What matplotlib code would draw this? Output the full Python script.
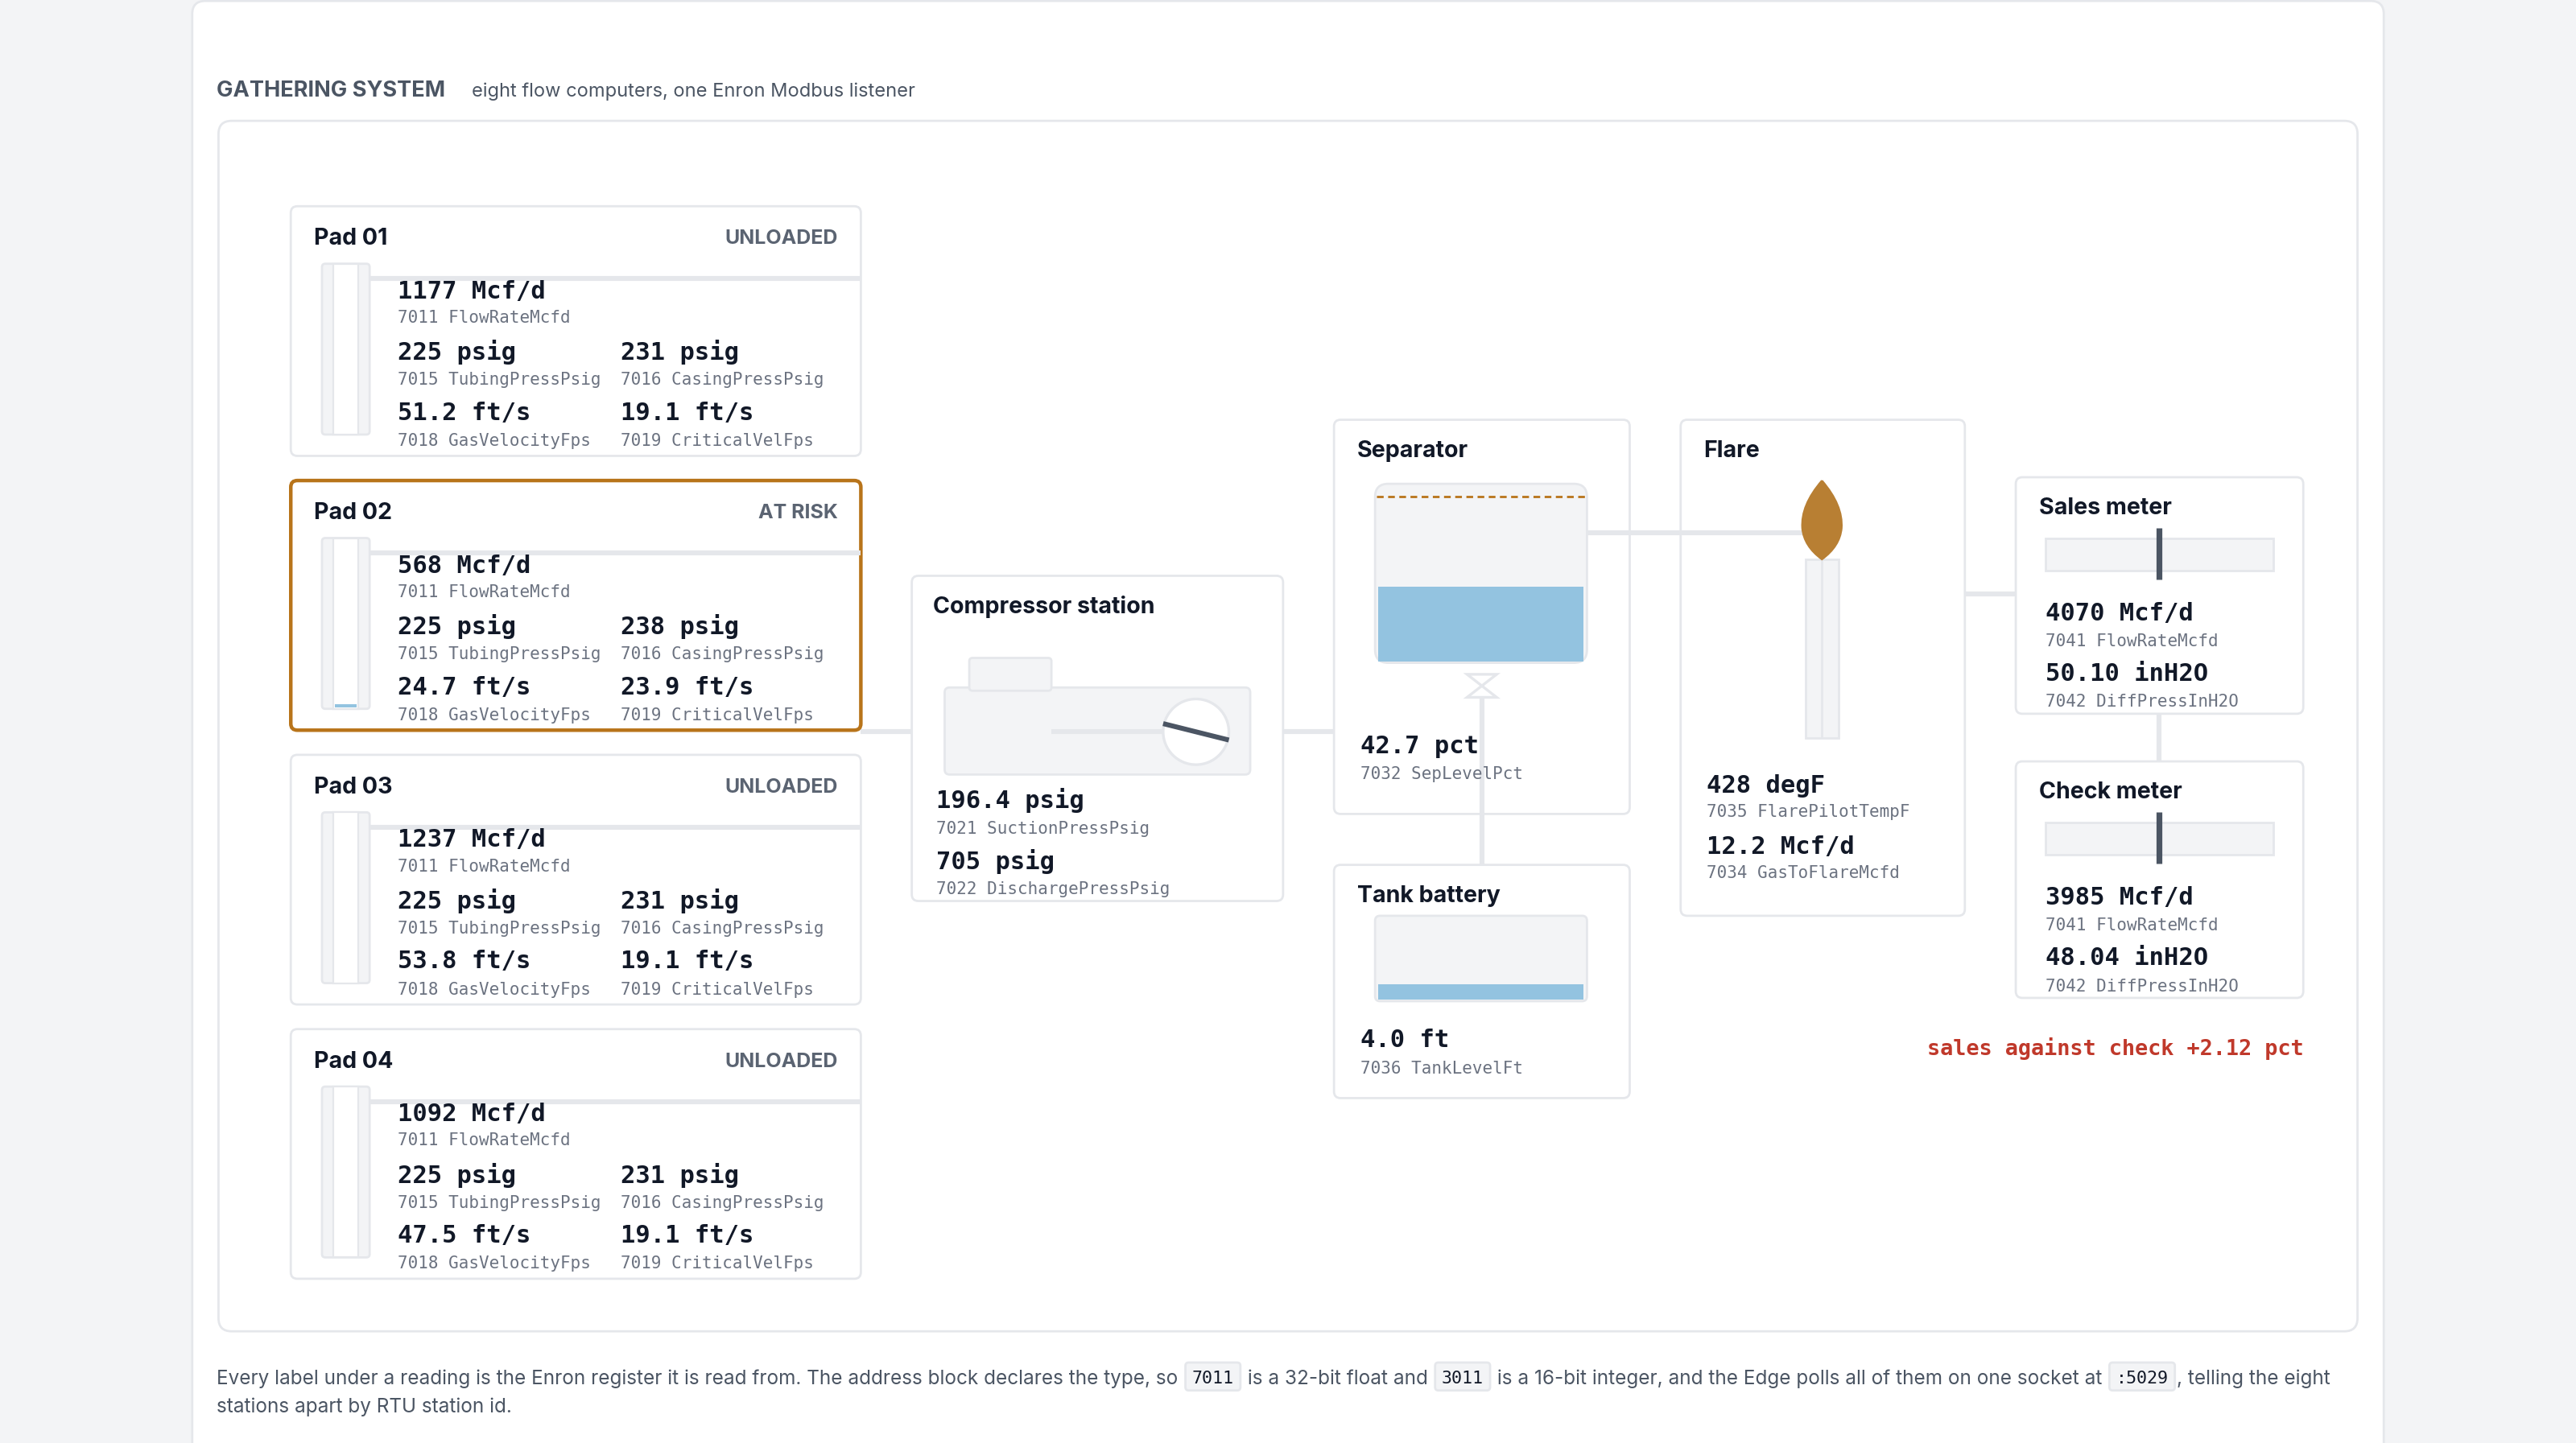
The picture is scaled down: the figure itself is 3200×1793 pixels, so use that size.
import matplotlib
matplotlib.use("Agg")
import matplotlib.pyplot as plt
from matplotlib.patches import FancyBboxPatch, Rectangle, Circle, Polygon
from matplotlib.path import Path
from matplotlib.patches import PathPatch

# ---- data ----
pad_names = ["Pad 01", "Pad 02", "Pad 03", "Pad 04"]
pad_status = ["UNLOADED", "AT RISK", "UNLOADED", "UNLOADED"]
pad_flow = [1177, 568, 1237, 1092]
pad_tubing = [225, 225, 225, 225]
pad_casing = [231, 238, 231, 231]
pad_gasvel = [51.2, 24.7, 53.8, 47.5]
pad_critvel = [19.1, 23.9, 19.1, 19.1]
pad_regs = ["7011 FlowRateMcfd", "7015 TubingPressPsig", "7016 CasingPressPsig",
            "7018 GasVelocityFps", "7019 CriticalVelFps"]
comp_suction = 196.4
comp_discharge = 705
sep_level_pct = 42.7
flare_temp = 428
flare_gas = 12.2
tank_level_ft = 4.0
tank_fill_frac = 0.2
sales_flow, sales_dp = 4070, 50.10
check_flow, check_dp = 3985, 48.04
sales_vs_check = 2.12

W, H = 1568, 879
fig = plt.figure(figsize=(16, 16 * H / W), dpi=200)
ax = fig.add_axes([0, 0, 1, 1])
ax.set_xlim(0, W); ax.set_ylim(H, 0); ax.axis("off")
fig.patch.set_facecolor("#f3f4f6")

SANS = ["Inter", "DejaVu Sans"]
MONO = ["DejaVu Sans Mono"]
BORDER = "#e5e7eb"
LIGHT = "#f3f4f6"
DARK = "#111827"
GRAY = "#6b7280"
SLATE = "#4b5563"
BLUE = "#93c3e0"
DY = 1.5

def box(x0, y0, x1, y1, ec=BORDER, fc="white", lw=1.0, r=4, z=1):
    p = FancyBboxPatch((x0, y0), x1 - x0, y1 - y0, boxstyle=f"round,pad=0,rounding_size={r}",
                       ec=ec, fc=fc, lw=lw, zorder=z)
    ax.add_patch(p)

def line(xs, ys, c=BORDER, lw=2.2, z=0.5, **kw):
    ax.plot(xs, ys, color=c, lw=lw, zorder=z, solid_capstyle="butt", **kw)

def title(x, y, s):
    ax.text(x, y + DY, s, fontsize=10.3, fontweight="bold", family=SANS, color=DARK, va="center", zorder=5)

def val(x, y, s, c=DARK, ha="left"):
    ax.text(x, y + DY, s, fontsize=11, fontweight="bold", family=MONO, color=c, va="center", ha=ha, zorder=5)

def lab(x, y, s):
    ax.text(x, y + DY, s, fontsize=7.5, family=MONO, color=GRAY, va="center", zorder=5)

# outer card and panel
box(117, 1, 1451, 900, fc="white", r=8, z=0)
ax.text(132, 54 + DY, "GATHERING SYSTEM", fontsize=9.8, fontweight="bold", family=SANS, color=SLATE, va="center")
ax.text(287, 54 + DY, "eight flow computers, one Enron Modbus listener", fontsize=8.5, family=SANS, color=SLATE, va="center")
box(133, 74, 1435, 811, r=8, z=0.2)

# connection lines
line([524, 555], [446, 446])
line([781, 812], [446, 446])
line([966, 1100], [325, 325], z=2)
line([1196, 1227], [362, 362])
line([902, 902], [425, 527], z=3)
line([1314, 1314], [435, 464])

# pads
for i in range(4):
    y0 = 126 + 167 * i
    risk = pad_status[i] == "AT RISK"
    box(177, y0, 524, y0 + 152, ec="#b8741a" if risk else BORDER, lw=1.6 if risk else 1.0, z=1)
    title(191, y0 + 18, pad_names[i])
    ax.text(510, y0 + 18 + DY, pad_status[i], fontsize=9.0, fontweight="bold", family=SANS,
            color="#5b6472", ha="right", va="center", zorder=5)
    box(196, y0 + 35, 225, y0 + 139, fc=LIGHT, r=2, z=2)
    ax.add_patch(Rectangle((203, y0 + 35), 15, 104, fc="white", ec=BORDER, lw=0.8, zorder=2.1))
    if risk:
        ax.add_patch(Rectangle((204, y0 + 136), 13, 2, fc=BLUE, lw=0, zorder=2.2))
    line([225, 524], [y0 + 44, y0 + 44], z=2.05)
    val(242, y0 + 50, f"{pad_flow[i]} Mcf/d"); lab(242, y0 + 66, pad_regs[0])
    val(242, y0 + 87, f"{pad_tubing[i]} psig"); lab(242, y0 + 104, pad_regs[1])
    val(378, y0 + 87, f"{pad_casing[i]} psig"); lab(378, y0 + 104, pad_regs[2])
    val(242, y0 + 124, f"{pad_gasvel[i]:.1f} ft/s"); lab(242, y0 + 141, pad_regs[3])
    val(378, y0 + 124, f"{pad_critvel[i]:.1f} ft/s"); lab(378, y0 + 141, pad_regs[4])

# compressor
box(555, 351, 781, 549)
title(568, 368, "Compressor station")
box(575, 419, 761, 472, fc=LIGHT, r=3, z=2)
box(590, 401, 640, 421, fc=LIGHT, r=2, z=2)
line([640, 710], [446, 446], z=2.5)
ax.add_patch(Circle((728, 446), 20, fc="white", ec=BORDER, lw=1.2, zorder=3))
line([708, 748], [441, 451], c=SLATE, lw=2.2, z=3.5)
val(570, 486, f"{comp_suction:.1f} psig"); lab(570, 503, "7021 SuctionPressPsig")
val(570, 523, f"{comp_discharge} psig"); lab(570, 540, "7022 DischargePressPsig")

# separator
box(812, 256, 992, 496)
title(826, 273, "Separator")
vy0, vy1 = 295, 404
box(837, vy0, 966, vy1, fc=LIGHT, r=8, z=2)
liq_top = vy1 - (vy1 - vy0) * sep_level_pct / 100
ax.add_patch(Rectangle((839, liq_top), 125, vy1 - liq_top - 1, fc=BLUE, lw=0, zorder=2.5))
line([838, 965], [303, 303], c="#b8741a", lw=1.0, z=3, linestyle=(0, (3, 2)))
ax.add_patch(Polygon([(893, 411), (911, 411), (893, 425), (911, 425)], closed=True,
                     fc="white", ec=BORDER, lw=1.2, zorder=3))
val(828, 453, f"{sep_level_pct:.1f} pct"); lab(828, 470, "7032 SepLevelPct")

# tank battery
box(812, 527, 992, 669)
title(826, 544, "Tank battery")
box(837, 558, 966, 610, fc=LIGHT, r=3, z=2)
ax.add_patch(Rectangle((839, 610 - 52 * tank_fill_frac), 125, 52 * tank_fill_frac - 1, fc=BLUE, lw=0, zorder=2.5))
val(828, 632, f"{tank_level_ft:.1f} ft"); lab(828, 649, "7036 TankLevelFt")

# flare
box(1023, 256, 1196, 558)
title(1037, 273, "Flare")
ax.add_patch(Rectangle((1099, 341), 20, 109, fc=LIGHT, ec=BORDER, lw=1.0, zorder=2))
line([1109, 1109], [341, 450], z=2.5, lw=1.0)
fl = Path([(1109, 293), (1122, 308), (1121, 322), (1120, 333), (1109, 341), (1098, 333), (1097, 322), (1096, 308), (1109, 293)],
          [Path.MOVETO, Path.CURVE3, Path.CURVE3, Path.CURVE3, Path.CURVE3, Path.CURVE3, Path.CURVE3, Path.CURVE3, Path.CURVE3])
ax.add_patch(PathPatch(fl, fc="#b87f33", ec="#b87f33", lw=0.8, zorder=3))
val(1039, 477, f"{flare_temp} degF"); lab(1039, 493, "7035 FlarePilotTempF")
val(1039, 514, f"{flare_gas:.1f} Mcf/d"); lab(1039, 530, "7034 GasToFlareMcfd")

# meters
for y0, name, fl_, dp in [(291, "Sales meter", sales_flow, sales_dp), (464, "Check meter", check_flow, check_dp)]:
    box(1227, y0, 1402, y0 + 144)
    title(1241, y0 + 17, name)
    ax.add_patch(Rectangle((1245, y0 + 37), 139, 20, fc=LIGHT, ec=BORDER, lw=1.0, zorder=2))
    line([1314, 1314], [y0 + 31, y0 + 62], c=SLATE, lw=2.6, z=3)
    val(1245, y0 + 81, f"{fl_} Mcf/d"); lab(1245, y0 + 98, "7041 FlowRateMcfd")
    val(1245, y0 + 118, f"{dp:.2f} inH2O"); lab(1245, y0 + 135, "7042 DiffPressInH2O")

ax.text(1402, 637 + DY, f"sales against check {sales_vs_check:+.2f} pct", fontsize=9.7, fontweight="bold",
        family=MONO, color="#c0392b", ha="right", va="center")

# footer with inline code
parts = [("Every label under a reading is the Enron register it is read from. The address block declares the type, so ", False),
         ("7011", True), (" is a 32-bit float and ", False), ("3011", True),
         (" is a 16-bit integer, and the Edge polls all of them on one socket at ", False), (":5029", True),
         (", telling the eight", False)]
fig.canvas.draw()
r = fig.canvas.get_renderer()
inv = ax.transData.inverted()
x = 132
FY = 838 + DY
for s, code in parts:
    if code:
        x += 5
        t = ax.text(x, FY, s, fontsize=7.8, family=MONO, color=DARK, va="center", zorder=5)
    else:
        t = ax.text(x, FY, s, fontsize=8.75, family=SANS, color=SLATE, va="center", zorder=5)
    bb = t.get_window_extent(r)
    x1 = inv.transform((bb.x1, bb.y0))[0]
    if code:
        box(x - 4, 830, x1 + 4, 847, fc=LIGHT, ec=BORDER, r=2, z=4)
        x = x1 + 5
    else:
        x = x1
ax.text(132, 855 + DY, "stations apart by RTU station id.", fontsize=8.75, family=SANS, color=SLATE, va="center")

fig.savefig("out.png", dpi=200, facecolor=fig.get_facecolor())
